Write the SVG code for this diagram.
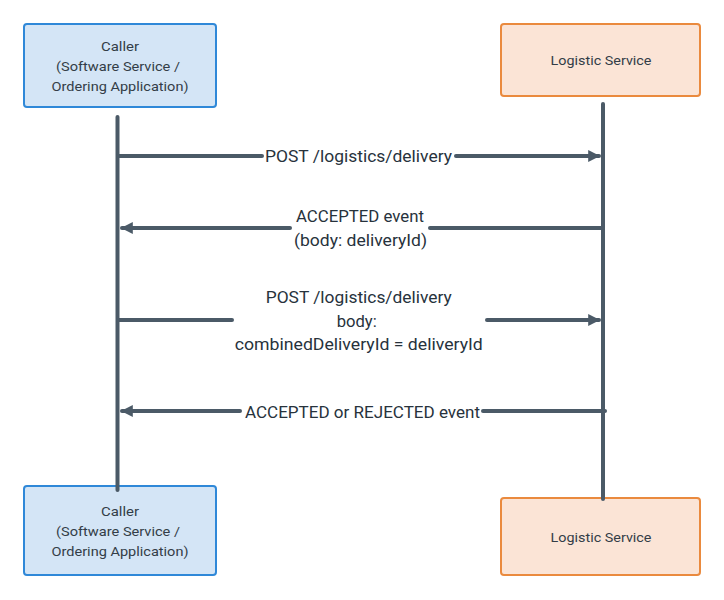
<svg xmlns="http://www.w3.org/2000/svg" width="724" height="600" viewBox="0 0 724 600">
<style>
.caller{fill:#d4e5f6;stroke:#2f88d8;stroke-width:2}
.logi{fill:#fbe4d6;stroke:#ea8a3e;stroke-width:2}
.nt{font-family:Roboto,"Liberation Sans",sans-serif;font-size:13.5px;fill:#333d47;text-anchor:middle}
.lt{font-family:Roboto,"Liberation Sans",sans-serif;font-size:16px;fill:#27323c;text-anchor:middle}
.ln{stroke:#4b5a67;stroke-width:4;fill:none;stroke-linecap:round}
</style>
<defs>
<marker id="ah" viewBox="0 0 10 10" refX="9" refY="5" markerWidth="3" markerHeight="3.2" orient="auto" markerUnits="strokeWidth">
<path d="M0,0 L10,5 L0,10 z" fill="#4b5a67"/>
</marker>
</defs>
<rect width="724" height="600" fill="#fff"/>
<g id="caller-top">
<rect class="caller" x="24" y="24" width="192" height="83" rx="3"/>
<text class="nt" x="120" y="51" textLength="38" lengthAdjust="spacingAndGlyphs">Caller</text>
<text class="nt" x="118" y="71" textLength="124" lengthAdjust="spacingAndGlyphs">(Software Service /</text>
<text class="nt" x="120" y="91" textLength="137" lengthAdjust="spacingAndGlyphs">Ordering Application)</text>
</g>
<g id="logistic-top">
<rect class="logi" x="501" y="24" width="199" height="72" rx="3"/>
<text class="nt" x="601" y="65" textLength="101" lengthAdjust="spacingAndGlyphs">Logistic Service</text>
</g>
<g id="caller-bottom">
<rect class="caller" x="24" y="486" width="192" height="89" rx="3"/>
<text class="nt" x="120" y="516" textLength="38" lengthAdjust="spacingAndGlyphs">Caller</text>
<text class="nt" x="118" y="536" textLength="124" lengthAdjust="spacingAndGlyphs">(Software Service /</text>
<text class="nt" x="120" y="556" textLength="137" lengthAdjust="spacingAndGlyphs">Ordering Application)</text>
</g>
<g id="logistic-bottom">
<rect class="logi" x="501" y="498" width="199" height="77" rx="3"/>
<text class="nt" x="601" y="542" textLength="101" lengthAdjust="spacingAndGlyphs">Logistic Service</text>
</g>
<g id="connectors">
<line class="ln" x1="117.5" y1="117" x2="117.5" y2="490"/>
<line class="ln" x1="603" y1="104" x2="603" y2="499"/>
<line class="ln" x1="118" y1="156" x2="262" y2="156"/>
<line class="ln" x1="456" y1="156" x2="599" y2="156" marker-end="url(#ah)"/>
<text class="lt" x="358.5" y="162" textLength="187" lengthAdjust="spacingAndGlyphs">POST /logistics/delivery</text>
<line class="ln" x1="601" y1="228" x2="430" y2="228"/>
<line class="ln" x1="290" y1="228" x2="122" y2="228" marker-end="url(#ah)"/>
<text class="lt" x="360" y="222" textLength="128" lengthAdjust="spacingAndGlyphs">ACCEPTED event</text>
<text class="lt" x="360.5" y="246" textLength="133" lengthAdjust="spacingAndGlyphs">(body: deliveryId)</text>
<line class="ln" x1="118" y1="320" x2="232" y2="320"/>
<line class="ln" x1="487" y1="320" x2="599" y2="320" marker-end="url(#ah)"/>
<text class="lt" x="358.7" y="302.5" textLength="186" lengthAdjust="spacingAndGlyphs">POST /logistics/delivery</text>
<text class="lt" x="356.7" y="326.5" textLength="40" lengthAdjust="spacingAndGlyphs">body:</text>
<text class="lt" x="358.8" y="350" textLength="248" lengthAdjust="spacingAndGlyphs">combinedDeliveryId = deliveryId</text>
<line class="ln" x1="605" y1="411" x2="483" y2="411"/>
<line class="ln" x1="240" y1="411" x2="122" y2="411" marker-end="url(#ah)"/>
<text class="lt" x="362.5" y="417.5" textLength="235" lengthAdjust="spacingAndGlyphs">ACCEPTED or REJECTED event</text>
</g>
</svg>
